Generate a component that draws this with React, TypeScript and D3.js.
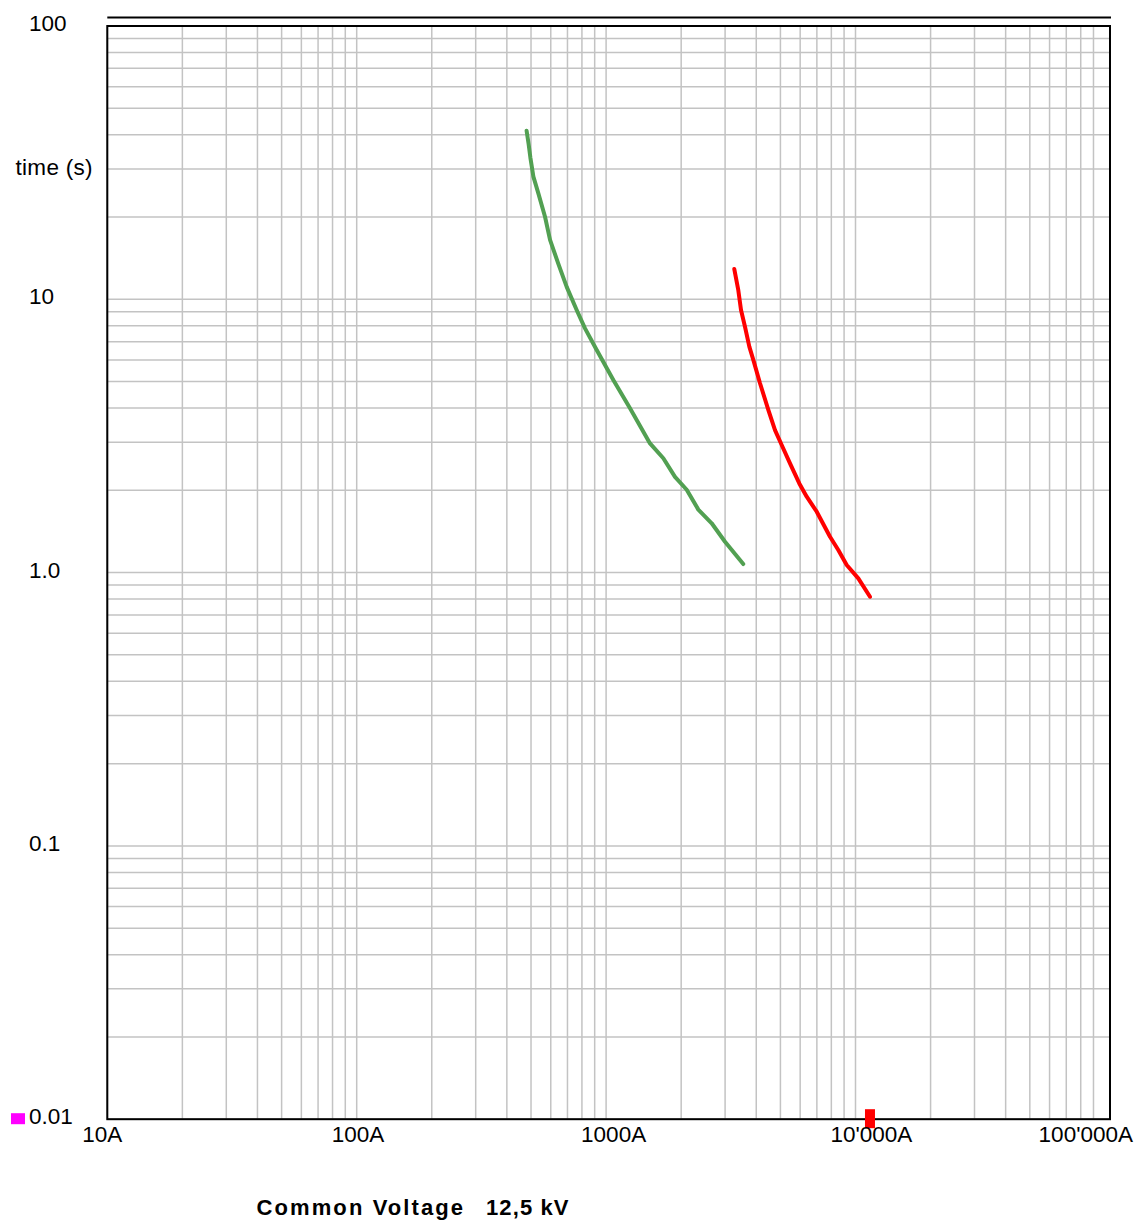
import React from "react";
import * as d3 from "d3";

// ---- data ----
const X_TICKS = [10, 100, 1000, 10000, 100000];
const X_LABELS = ["10A", "100A", "1000A", "10'000A", "100'000A"];
const Y_TICKS = [100, 10, 1, 0.1, 0.01];
const Y_LABELS = ["100", "10", "1.0", "0.1", "0.01"];

const GREEN_I = [480, 489, 497, 511, 535, 569, 596, 643, 695, 762, 823, 917, 1069, 1247, 1500, 1696, 1889, 2105, 2343, 2651, 2998, 3548];
const GREEN_T = [41.4, 37.0, 33.0, 28.1, 24.4, 20.05, 16.5, 13.5, 11.1, 9.14, 7.83, 6.52, 5.07, 3.99, 2.97, 2.62, 2.24, 2.01, 1.7, 1.515, 1.297, 1.075];

const RED_I = [3266, 3389, 3475, 3605, 3752, 3893, 4141, 4471, 4756, 5059, 5462, 5952, 6374, 6991, 7904, 8531, 9220, 10261, 11432];
const RED_T = [12.9, 10.8, 9.14, 7.94, 6.71, 6.0, 4.93, 3.94, 3.32, 2.93, 2.51, 2.12, 1.895, 1.67, 1.353, 1.21, 1.066, 0.953, 0.816];

const MARKER_I = 11430;

const Y_AXIS_TITLE = "time (s)";
const TITLE_A = "Common Voltage";
const TITLE_B = "12,5 kV";

// ---- layout ----
const W = 1135;
const H = 1222;
const LEFT = 107.3;
const RIGHT_SCALE = 1104.9;
const RIGHT_FRAME = 1110;
const TOP = 26;
const BOTTOM = 1119.2;
const FONT = "'Liberation Sans', Arial, Helvetica, sans-serif";

export default function App() {
  const x = d3.scaleLog().domain([10, 100000]).range([LEFT, RIGHT_SCALE]);
  const y = d3.scaleLog().domain([0.01, 100]).range([BOTTOM, TOP]);

  const xGrid: number[] = [];
  [10, 100, 1000, 10000].forEach((d) => {
    d3.range(1, 10).forEach((m) => xGrid.push(m * d));
  });
  const yGrid: number[] = [];
  [0.01, 0.1, 1, 10].forEach((d) => {
    d3.range(1, 10).forEach((m) => yGrid.push(m * d));
  });

  const path = (I: number[], T: number[]) =>
    d3
      .line<[number, number]>()
      .x((d) => x(d[0]))
      .y((d) => y(d[1]))(I.map((v, i) => [v, T[i]] as [number, number])) || "";

  return (
    <svg
      width={W}
      height={H}
      style={{ position: "absolute", left: 0, top: 0, display: "block", background: "#fff" }}
      fontFamily={FONT}
    >
      <rect x={0} y={0} width={W} height={H} fill="#fff" />
      {/* grid */}
      <g stroke="#c3c3c3" strokeWidth={1.5}>
        {xGrid.map((v, i) => (
          <line key={"gx" + i} x1={x(v)} x2={x(v)} y1={TOP} y2={BOTTOM} />
        ))}
        {yGrid.map((v, i) => (
          <line key={"gy" + i} x1={LEFT} x2={RIGHT_FRAME} y1={y(v)} y2={y(v)} />
        ))}
      </g>
      {/* frame */}
      <rect
        x={LEFT}
        y={TOP}
        width={RIGHT_FRAME - LEFT}
        height={BOTTOM - TOP}
        fill="none"
        stroke="#000"
        strokeWidth={2}
      />
      <line x1={LEFT} x2={RIGHT_FRAME + 1} y1={17.5} y2={17.5} stroke="#000" strokeWidth={2} />

      {/* curves */}
      <path
        d={path(GREEN_I, GREEN_T)}
        fill="none"
        stroke="#52a052"
        strokeWidth={4}
        strokeLinecap="round"
        strokeLinejoin="round"
      />
      <path
        d={path(RED_I, RED_T)}
        fill="none"
        stroke="#ff0000"
        strokeWidth={4}
        strokeLinecap="round"
        strokeLinejoin="round"
      />

      {/* marker on x axis */}
      <rect x={x(MARKER_I) - 5} y={BOTTOM - 10} width={10} height={19} fill="#ff0000" />

      {/* magenta marker */}
      <rect x={11} y={y(0.01) - 6} width={14} height={11} fill="#ff00ff" />

      {/* y labels */}
      <g fontSize={22.5} fill="#000">
        {Y_TICKS.map((v, i) => (
          <text key={"yl" + i} x={29} y={y(v) + 5}>
            {Y_LABELS[i]}
          </text>
        ))}
        <text x={15.5} y={175} letterSpacing={0.3}>
          {Y_AXIS_TITLE}
        </text>
      </g>

      {/* x labels */}
      <g fontSize={22.5} fill="#000">
        {X_TICKS.map((v, i) =>
          i === X_TICKS.length - 1 ? (
            <text key={"xl" + i} x={W - 2} y={BOTTOM + 22.5} textAnchor="end">
              {X_LABELS[i]}
            </text>
          ) : (
            <text key={"xl" + i} x={x(v) - 25} y={BOTTOM + 22.5}>
              {X_LABELS[i]}
            </text>
          )
        )}
      </g>

      {/* title */}
      <g fontSize={22} fontWeight="bold" fill="#000">
        <text x={256.5} y={1215} letterSpacing={2.1}>
          {TITLE_A}
        </text>
        <text x={486} y={1215} letterSpacing={1.1}>
          {TITLE_B}
        </text>
      </g>
    </svg>
  );
}
